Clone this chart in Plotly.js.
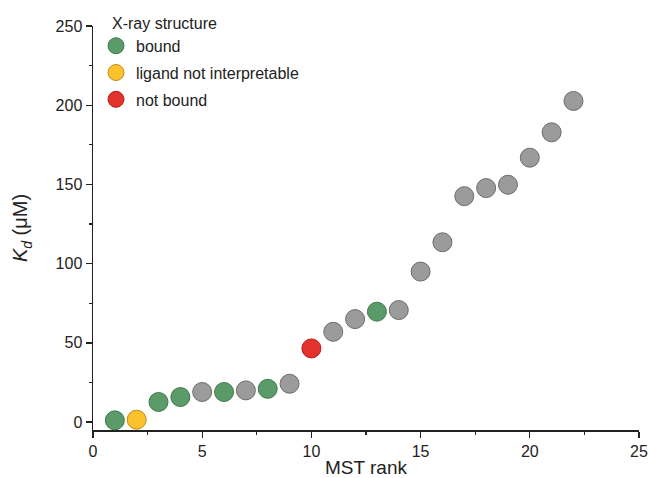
<!DOCTYPE html>
<html>
<head>
<meta charset="utf-8">
<script src="https://cdn.plot.ly/plotly-3.0.1.min.js"></script>
<style>html,body{margin:0;padding:0;background:#fff;}#chart{width:649px;height:478px;}</style>
</head>
<body>
<div id="chart"></div>
<script>
// MST rank and Kd (µM) per compound
const rank = [1,2,3,4,5,6,7,8,9,10,11,12,13,14,15,16,17,18,19,20,21,22];
const kd   = [1.1,1.5,12.7,15.8,19,19,20,21,24.2,46.5,57,65,69.7,70.7,95,113.5,142.6,147.7,149.8,166.9,182.9,202.7];
// X-ray structure status: b = bound, l = ligand not interpretable, n = not bound, u = no structure
const status = ['b','l','b','b','u','b','u','b','u','n','u','u','b','u','u','u','u','u','u','u','u','u'];

const groups = [
  {key:'b', name:'bound', fill:'#5b9a69', line:'#3f7a4e', legend:true},
  {key:'l', name:'ligand not interpretable', fill:'#fcc22b', line:'#c08a1e', legend:true},
  {key:'n', name:'not bound', fill:'#e2322b', line:'#b01e1a', legend:true},
  {key:'u', name:'no structure', fill:'#9b9b9b', line:'#6c6c6c', legend:false}
];

const traces = groups.map((g,i) => {
  const xs = [], ys = [];
  rank.forEach((r,j) => { if (status[j] === g.key) { xs.push(r); ys.push(kd[j]); } });
  return {
    type:'scatter', mode:'markers', x:xs, y:ys, name:g.name,
    showlegend:g.legend, legendgroup:'g'+i,
    marker:{size:19, color:g.fill, line:{color:g.line, width:1}},
    cliponaxis:false
  };
});
// draw gray first so colored points sit on top
traces.unshift(traces.pop());

const font = {family:'"Liberation Sans", Arial, sans-serif', color:'#222', size:16};

const layout = {
  width:649, height:478,
  margin:{l:93, r:10, t:26, b:48},
  paper_bgcolor:'#fff', plot_bgcolor:'#fff',
  font:font,
  showlegend:true,
  legend:{x:0.0055, y:0.993, xanchor:'left', yanchor:'top', tracegroupgap:3,
          font:{family:font.family, size:16, color:'#222'}, bgcolor:'rgba(0,0,0,0)', traceorder:'grouped'},
  xaxis:{range:[0,25], showgrid:false, zeroline:false, showline:true, linecolor:'#222', linewidth:1.5,
         ticks:'outside', ticklen:6, tickwidth:1.3, tickcolor:'#222', dtick:5, tick0:0,
         minor:{dtick:2.5, ticks:'outside', ticklen:3, tickwidth:1.3, tickcolor:'#222'},
         tickfont:{size:16}, title:{text:'MST rank', font:{size:19}, standoff:4}},
  yaxis:{range:[-5,250], showgrid:false, zeroline:false, showline:true, linecolor:'#222', linewidth:1.5,
         ticks:'outside', ticklen:6, tickwidth:1.3, tickcolor:'#222', dtick:50, tick0:0,
         minor:{dtick:25, ticks:'outside', ticklen:3, tickwidth:1.3, tickcolor:'#222'},
         tickfont:{size:16}, title:{text:'<i>K</i><sub><i>d</i></sub> (μM)', font:{size:20}, standoff:22}},
  annotations:[{xref:'paper', yref:'paper', x:0.031, y:1.005, xanchor:'left', yanchor:'middle',
                text:'X-ray structure', showarrow:false, font:{size:16, color:'#222'}}]
};

Plotly.newPlot('chart', traces, layout, {displayModeBar:false, staticPlot:true});
</script>
</body>
</html>
